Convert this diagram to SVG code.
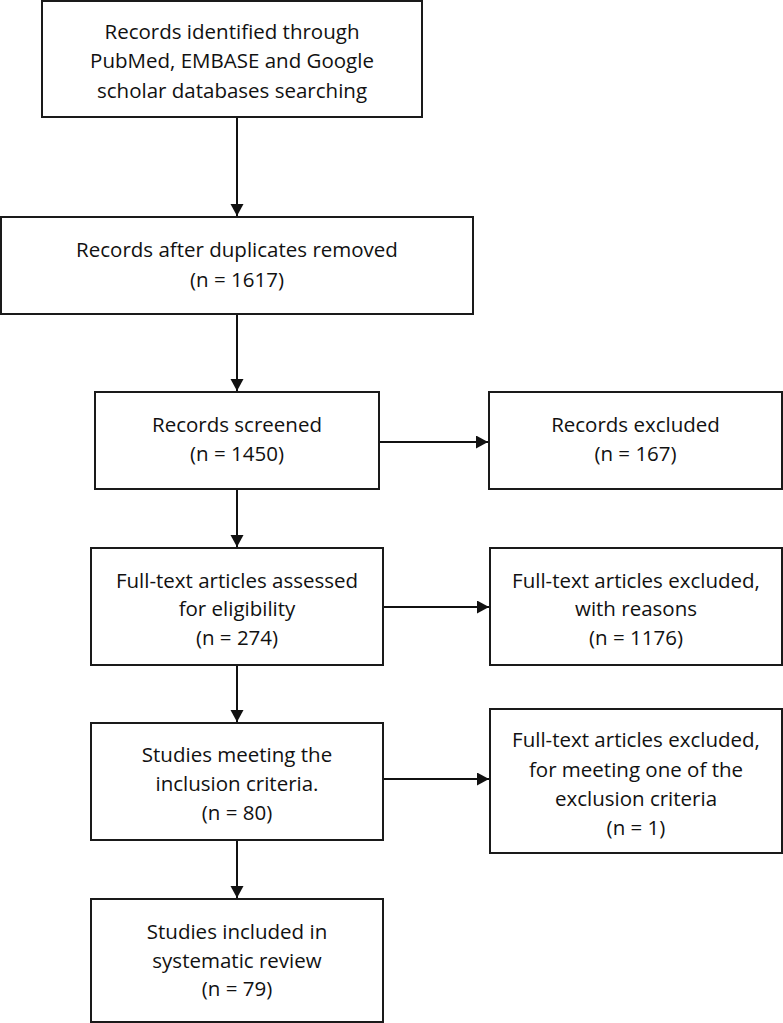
<svg xmlns="http://www.w3.org/2000/svg" width="783" height="1023" viewBox="0 0 783 1023">
<style>
.box{fill:#fff;stroke:#1a1a1a;stroke-width:2}
.t{font-family:"Open Sans","Liberation Sans",sans-serif;font-size:20.5px;fill:#111;text-anchor:middle}
.c{stroke:#111;stroke-width:2;fill:none;marker-end:url(#ah)}
</style>
<defs>
<marker id="ah" markerUnits="userSpaceOnUse" markerWidth="14" markerHeight="14" refX="12" refY="6.5" orient="auto">
<path d="M0,0 L12,6.5 L0,13 Z" fill="#111"/>
</marker>
</defs>
<rect width="783" height="1023" fill="#fff"/>
<g id="connectors">
<line class="c" x1="237" y1="117" x2="237" y2="216"/>
<line class="c" x1="237" y1="314" x2="237" y2="391"/>
<line class="c" x1="237" y1="489" x2="237" y2="547"/>
<line class="c" x1="237" y1="665" x2="237" y2="722"/>
<line class="c" x1="237" y1="840" x2="237" y2="898"/>
<line class="c" x1="379" y1="442" x2="488" y2="442"/>
<line class="c" x1="383" y1="607" x2="489" y2="607"/>
<line class="c" x1="383" y1="779" x2="489" y2="779"/>
</g>
<g id="identified">
<rect class="box" x="42" y="1" width="380" height="116"/>
<text class="t" x="232" y="39">Records identified through</text>
<text class="t" x="232" y="68">PubMed, EMBASE and Google</text>
<text class="t" x="232" y="98">scholar databases searching</text>
</g>
<g id="duplicates">
<rect class="box" x="1" y="217" width="472" height="97"/>
<text class="t" x="237" y="257">Records after duplicates removed</text>
<text class="t" x="237" y="287">(n = 1617)</text>
</g>
<g id="screened">
<rect class="box" x="95" y="392" width="284" height="97"/>
<text class="t" x="237" y="432">Records screened</text>
<text class="t" x="237" y="461">(n = 1450)</text>
</g>
<g id="excluded">
<rect class="box" x="489" y="392" width="293" height="97"/>
<text class="t" x="635.5" y="432">Records excluded</text>
<text class="t" x="635.5" y="461">(n = 167)</text>
</g>
<g id="fulltext">
<rect class="box" x="91" y="548" width="292" height="117"/>
<text class="t" x="237" y="588">Full-text articles assessed</text>
<text class="t" x="237" y="616">for eligibility</text>
<text class="t" x="237" y="645">(n = 274)</text>
</g>
<g id="fulltext-excluded">
<rect class="box" x="490" y="548" width="292" height="117"/>
<text class="t" x="636" y="588">Full-text articles excluded,</text>
<text class="t" x="636" y="616">with reasons</text>
<text class="t" x="636" y="645">(n = 1176)</text>
</g>
<g id="meeting">
<rect class="box" x="91" y="723" width="292" height="117"/>
<text class="t" x="237" y="762">Studies meeting the</text>
<text class="t" x="237" y="791">inclusion criteria.</text>
<text class="t" x="237" y="820">(n = 80)</text>
</g>
<g id="exclusion">
<rect class="box" x="490" y="709" width="292" height="144"/>
<text class="t" x="636" y="747">Full-text articles excluded,</text>
<text class="t" x="636" y="777">for meeting one of the</text>
<text class="t" x="636" y="806">exclusion criteria</text>
<text class="t" x="636" y="835">(n = 1)</text>
</g>
<g id="included">
<rect class="box" x="91" y="899" width="292" height="123"/>
<text class="t" x="237" y="939">Studies included in</text>
<text class="t" x="237" y="968">systematic review</text>
<text class="t" x="237" y="996">(n = 79)</text>
</g>
</svg>
